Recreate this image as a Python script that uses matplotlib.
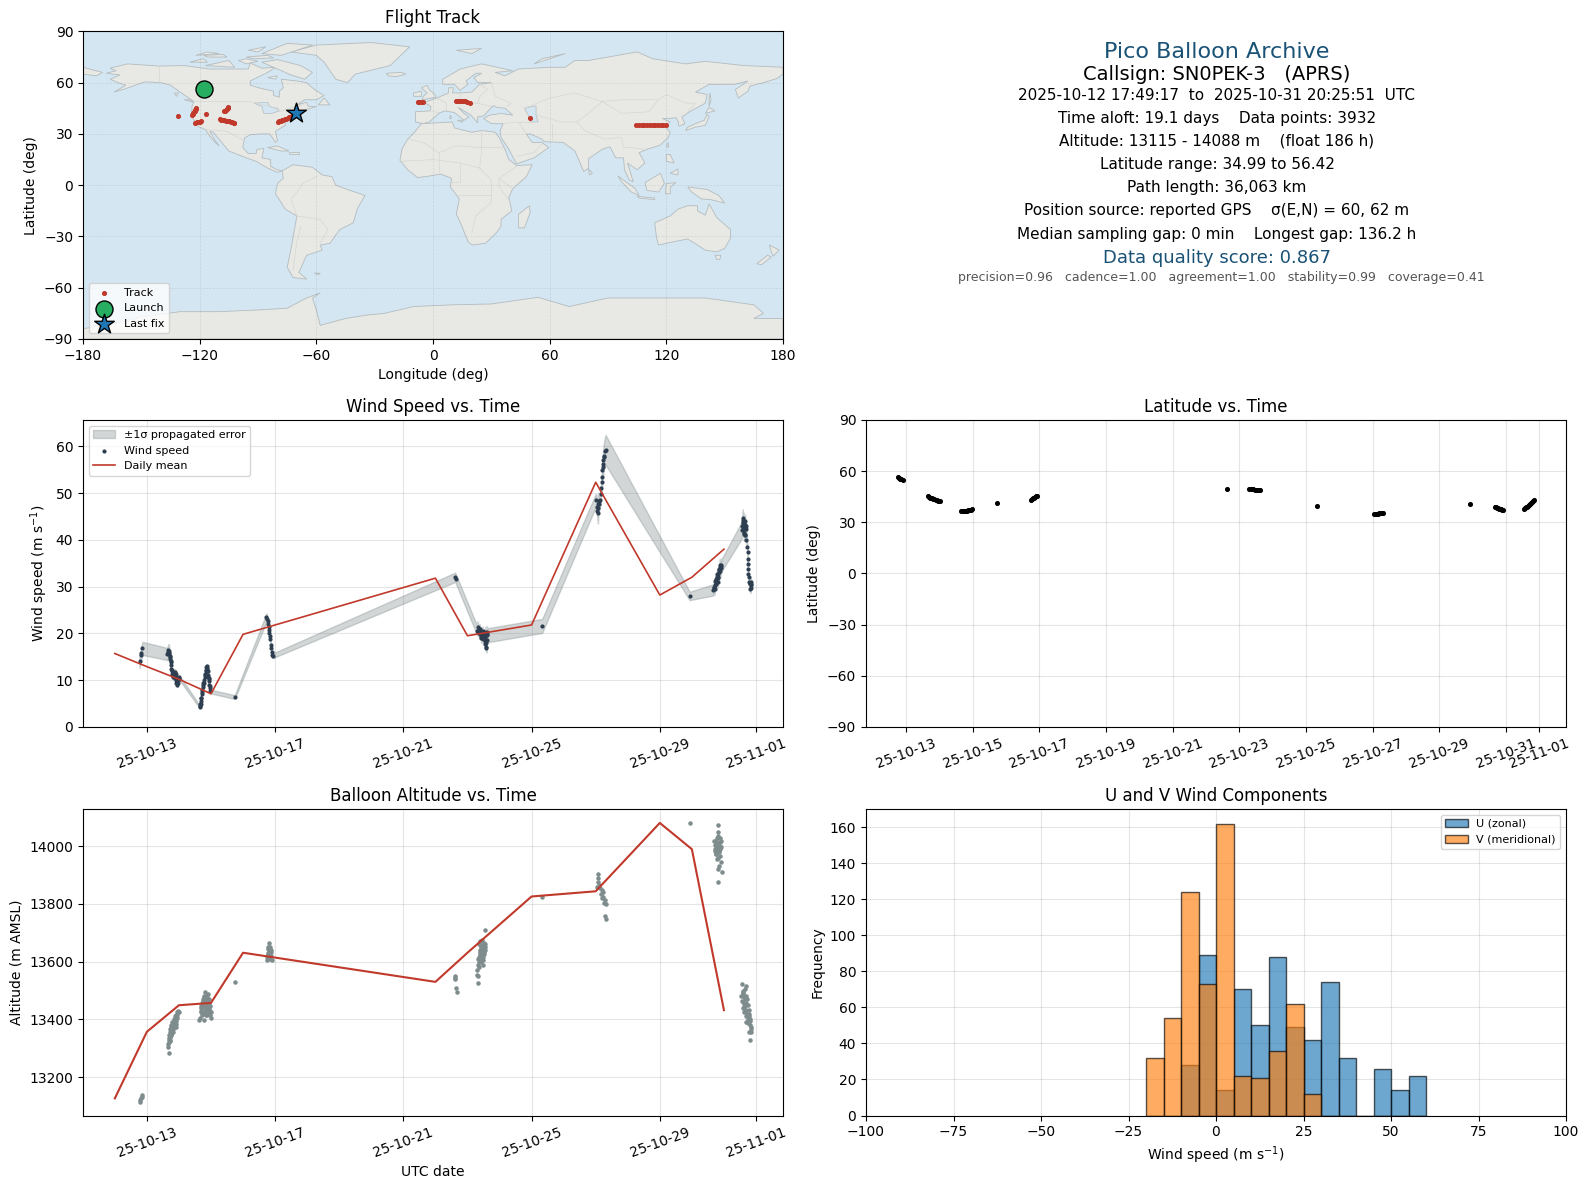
import numpy as np
import pandas as pd
import matplotlib
matplotlib.use("Agg")
import matplotlib.pyplot as plt
import matplotlib.dates as mdates
from matplotlib.patches import Polygon

W, H = 1589, 1189

# ---- data ----
mean_days = [12, 13, 14, 15, 16, 22, 23, 25, 27, 29, 30, 31]
mean_wind = [15.7, 12.9, 10.2, 7.1, 19.8, 31.8, 19.5, 21.8, 52.3, 28.2, 32.0, 38.0]
mean_alt = [13126, 13357, 13449, 13457, 13631, 13530, 13631, 13826, 13844, 14081, 13990, 13432]

wind_days = [12.77, 12.82, 12.83, 12.86,
             13.64, 13.65, 13.67, 13.69, 13.70, 13.72, 13.73, 13.74, 13.75, 13.76, 13.77, 13.78, 13.80, 13.82,
             13.85, 13.88, 13.90, 13.90, 13.92, 13.94, 13.95, 13.97, 13.99, 14.01,
             14.65, 14.67, 14.68, 14.69, 14.70, 14.72, 14.73, 14.75, 14.76, 14.78, 14.80, 14.82, 14.83, 14.85,
             14.87, 14.89, 14.90, 14.91, 14.93, 14.94, 14.95, 14.96, 14.98,
             15.74,
             16.73, 16.75, 16.77, 16.79, 16.80, 16.81, 16.82, 16.83, 16.85, 16.87, 16.87, 16.89, 16.90, 16.92,
             22.62, 22.64,
             23.32, 23.34, 23.36, 23.38, 23.40, 23.42, 23.44, 23.46, 23.48, 23.50, 23.52, 23.54, 23.56, 23.57,
             23.58, 23.58, 23.59, 23.60, 23.62,
             25.33,
             27.00, 27.04, 27.05, 27.07, 27.08, 27.10, 27.14, 27.16, 27.17, 27.19, 27.20, 27.21, 27.23, 27.24,
             27.26, 27.29, 27.31,
             29.93,
             30.67, 30.69, 30.72, 30.74, 30.76, 30.78, 30.80, 30.82, 30.84, 30.86, 30.88, 30.90, 30.92,
             31.55, 31.57, 31.59, 31.60, 31.61, 31.63, 31.65, 31.67, 31.67, 31.69, 31.73, 31.74, 31.74, 31.74,
             31.75, 31.76, 31.77, 31.78, 31.80, 31.82, 31.83, 31.84]
wind_speed = [14.0, 15.3, 15.9, 16.8,
              15.6, 16.0, 16.4, 16.3, 15.8, 15.2, 14.6, 13.9, 13.2, 12.5, 11.9, 11.4, 10.9, 10.6,
              11.2, 11.8, 11.3, 10.6, 10.0, 9.5, 9.0, 9.4, 10.2, 10.6,
              4.3, 4.4, 5.0, 5.6, 6.3, 7.0, 7.8, 8.5, 9.3, 10.0, 10.6, 11.4, 12.2, 12.8,
              13.0, 12.6, 11.9, 11.2, 10.5, 9.8, 9.0, 8.3, 7.6,
              6.4,
              23.4, 23.0, 22.6, 22.0, 21.4, 20.8, 20.0, 19.4, 18.7, 17.5, 16.9, 16.0, 15.4, 15.2,
              32.0, 31.6,
              21.4, 20.6, 20.0, 21.0, 20.2, 19.5, 20.4, 19.6, 18.9, 19.9, 19.2, 18.4, 17.8, 18.6,
              17.2, 20.0, 16.9, 19.8, 19.6,
              21.6,
              48.4, 47.0, 46.2, 45.7, 46.8, 47.6, 48.5, 49.8, 51.0, 52.3, 53.5, 55.0, 56.2, 57.0,
              58.0, 58.9, 59.2,
              28.0,
              29.3, 30.0, 30.3, 31.0, 31.6, 32.0, 31.8, 32.6, 33.2, 33.5, 34.1, 34.7, 34.5,
              42.0, 43.0, 44.6, 43.5, 42.0, 41.5, 43.2, 42.3, 41.0, 39.9, 38.4, 37.3, 36.0,
              34.9, 33.8, 32.8, 32.0, 31.0, 30.5, 29.5, 30.9, 30.3]
wind_sigma = [1.4, 1.4, 1.4, 1.4,
              1.3, 1.3, 1.3, 1.3, 1.2, 1.1, 1.0, 0.9, 0.8, 0.7, 0.7, 0.6, 0.6, 0.6,
              0.6, 0.6, 0.6, 0.5, 0.5, 0.5, 0.5, 0.5, 0.5, 0.5,
              0.3, 0.3, 0.3, 0.3, 0.3, 0.4, 0.4, 0.4, 0.4, 0.5, 0.5, 0.5, 0.5, 0.5,
              0.5, 0.5, 0.5, 0.5, 0.5, 0.5, 0.4, 0.4, 0.4,
              0.4,
              0.9, 0.9, 0.8, 0.8, 0.8, 0.7, 0.7, 0.7, 0.7, 0.6, 0.6, 0.6, 0.6, 0.5,
              1.0, 1.0,
              1.2, 1.0, 1.0, 1.0, 1.0, 1.0, 1.0, 1.0, 1.0, 1.0, 1.0, 1.0, 1.0, 1.0,
              1.0, 1.5, 1.0, 1.5, 1.5,
              1.5,
              1.4, 1.5, 2.0, 2.2, 1.8, 1.6, 1.5, 1.6, 1.7, 2.0, 2.2, 2.4, 2.6, 2.8,
              2.9, 3.1, 3.2,
              0.9,
              1.2, 1.2, 1.2, 1.2, 1.2, 1.2, 1.2, 1.2, 1.2, 1.3, 1.3, 1.3, 1.3,
              1.8, 1.8, 1.9, 1.6, 1.4, 1.4, 1.4, 1.4, 1.2, 1.0, 1.0, 0.8, 0.8,
              0.8, 0.8, 0.8, 0.8, 0.8, 0.9, 0.9, 0.9, 0.9]
# extra fixes that fill out the densest clusters
dense_wind_days = [13.66, 13.68, 13.71, 13.75, 13.78, 13.80, 13.83, 13.87, 13.92, 13.96, 14.00,
                   14.66, 14.69, 14.72, 14.75, 14.78, 14.81, 14.84, 14.86, 14.88, 14.92, 14.95, 14.97,
                   23.31, 23.35, 23.39, 23.43, 23.47, 23.51, 23.55, 23.60, 23.61, 23.58, 23.56, 23.53,
                   27.06, 27.09, 27.22, 27.25,
                   30.68, 30.71, 30.73, 30.75, 30.77, 30.79, 30.81, 30.83, 30.85, 30.87, 30.89, 30.91,
                   31.58, 31.60, 31.62, 31.64, 31.66, 31.68, 31.70, 31.61, 31.66, 31.82, 31.84, 31.85]
dense_wind_speed = [15.9, 15.5, 15.0, 14.0, 12.2, 11.8, 11.4, 10.5, 9.4, 10.0, 10.2,
                    4.9, 6.1, 7.5, 9.0, 9.5, 11.2, 11.9, 12.5, 12.0, 10.6, 10.2, 8.8,
                    20.5, 21.0, 19.8, 19.0, 20.5, 19.0, 19.3, 18.5, 20.3, 18.0, 20.2, 20.0,
                    47.6, 48.3, 55.6, 57.6,
                    29.8, 29.5, 31.2, 30.6, 31.0, 32.6, 31.0, 32.0, 33.8, 34.6, 33.3, 34.0,
                    43.9, 42.8, 41.3, 43.5, 44.0, 43.0, 42.3, 44.2, 41.0, 30.7, 29.8, 30.6]
dense_wind_sigma = [1.3, 1.3, 1.2, 0.9, 0.7, 0.6, 0.6, 0.6, 0.5, 0.5, 0.5,
                    0.3, 0.3, 0.4, 0.4, 0.5, 0.5, 0.5, 0.5, 0.5, 0.5, 0.5, 0.4,
                    1.0, 1.0, 1.0, 1.0, 1.0, 1.0, 1.0, 1.0, 1.2, 1.0, 1.2, 1.0,
                    2.0, 1.8, 2.4, 2.8,
                    1.2, 1.2, 1.2, 1.2, 1.2, 1.2, 1.2, 1.2, 1.2, 1.3, 1.3, 1.3,
                    1.8, 1.6, 1.4, 1.4, 1.4, 1.4, 1.2, 1.6, 1.2, 0.9, 0.9, 0.9]

alt_days = [12.77, 12.79, 12.82, 12.84, 12.86,
            13.68, 13.67, 13.66, 13.69, 13.68, 13.71, 13.70, 13.72, 13.73, 13.74, 13.72, 13.76, 13.74, 13.78, 13.76,
            13.80, 13.78, 13.83, 13.81, 13.85, 13.83, 13.88, 13.86, 13.90, 13.88, 13.92, 13.90, 13.95, 13.93, 13.97,
            13.99,
            14.64, 14.66, 14.77, 14.68, 14.70, 14.72, 14.74, 14.76, 14.78, 14.80, 14.82, 14.84, 14.86, 14.88, 14.90,
            14.92, 14.94, 14.96, 14.98, 15.00, 14.69, 14.75, 14.81, 14.87, 14.93, 14.99, 14.72, 14.84, 14.90, 14.80,
            15.74,
            16.74, 16.78, 16.82, 16.84, 16.80, 16.76, 16.86, 16.90, 16.88, 16.83, 16.79,
            22.60, 22.62, 22.60, 22.63, 22.66,
            23.33, 23.30, 23.31, 23.32, 23.34, 23.36, 23.38, 23.40, 23.42, 23.44, 23.46, 23.48, 23.50, 23.52, 23.54,
            23.56, 23.33, 23.37, 23.41, 23.45, 23.49, 23.53, 23.35, 23.39, 23.43, 23.47, 23.51, 23.56,
            25.33,
            27.08, 27.06, 27.07, 27.05, 27.09, 27.12, 27.15, 27.19, 27.21, 27.22, 27.24, 27.27, 27.30, 27.31, 27.29, 27.31,
            29.93,
            30.80, 30.80, 30.80, 30.70, 30.72, 30.75, 30.78, 30.82, 30.85, 30.88, 30.90, 30.72, 30.76, 30.80, 30.84, 30.88,
            30.74, 30.79, 30.83, 30.87, 30.91, 30.84, 30.80, 30.90, 30.94, 30.83,
            31.55, 31.69, 31.54, 31.58, 31.62, 31.66, 31.56, 31.60, 31.64, 31.68, 31.72, 31.60, 31.65, 31.70, 31.75, 31.79,
            31.63, 31.68, 31.73, 31.78, 31.70, 31.75, 31.80, 31.83, 31.85, 31.78, 31.82, 31.84, 31.81,
            13.69, 13.71, 13.73, 13.75, 13.77, 13.79, 13.82, 13.84, 13.87, 13.89, 13.91, 13.94,
            14.70, 14.73, 14.76, 14.79, 14.82, 14.85, 14.88, 14.91, 14.94, 14.97, 14.74, 14.78, 14.83, 14.89, 14.95,
            16.77, 16.81, 16.85, 16.79, 16.83, 16.87,
            23.37, 23.41, 23.45, 23.49, 23.53, 23.39, 23.43, 23.47, 23.51, 23.55, 23.42, 23.46, 23.50,
            30.71, 30.74, 30.77, 30.81, 30.85, 30.89, 30.73, 30.78, 30.83, 30.87,
            31.59, 31.63, 31.67, 31.71, 31.61, 31.65, 31.69, 31.74, 31.77, 31.81]
alt_values = [13115, 13120, 13126, 13132, 13138,
              13285, 13305, 13315, 13320, 13335, 13325, 13345, 13340, 13355, 13372, 13365, 13350, 13380, 13360, 13345,
              13375, 13390, 13380, 13365, 13395, 13370, 13385, 13400, 13374, 13410, 13395, 13415, 13405, 13425, 13430,
              13426,
              13397, 13405, 13397, 13425, 13440, 13455, 13470, 13445, 13480, 13495, 13470, 13450, 13485, 13465, 13487,
              13445, 13470, 13430, 13415, 13406, 13445, 13420, 13430, 13440, 13425, 13425, 13415, 13415, 13450, 13460,
              13531,
              13605, 13630, 13665, 13650, 13635, 13615, 13620, 13605, 13635, 13610, 13645,
              13552, 13545, 13540, 13507, 13495,
              13527, 13570, 13555, 13590, 13610, 13600, 13625, 13640, 13655, 13630, 13674, 13650, 13615, 13640, 13660,
              13711, 13550, 13580, 13600, 13620, 13640, 13665, 13660, 13670, 13610, 13590, 13625, 13650,
              13824,
              13904, 13890, 13875, 13858, 13865, 13855, 13835, 13847, 13820, 13840, 13825, 13805, 13815, 13800, 13757, 13749,
              14081,
              14074, 14048, 14035, 14020, 13990, 14005, 14030, 14010, 13985, 13965, 14020, 14005, 13975, 13960, 13980, 14015,
              13995, 13955, 14000, 13990, 13996, 13930, 13921, 13945, 13910, 13875,
              13522, 13515, 13480, 13500, 13478, 13505, 13465, 13490, 13455, 13480, 13470, 13440, 13445, 13432, 13450, 13432,
              13425, 13410, 13420, 13410, 13390, 13386, 13400, 13375, 13365, 13355, 13380, 13357, 13330,
              13330, 13340, 13330, 13345, 13355, 13370, 13355, 13385, 13375, 13395, 13385, 13415,
              13430, 13440, 13460, 13455, 13445, 13435, 13475, 13425, 13455, 13445, 13465, 13475, 13460, 13415, 13440,
              13650, 13620, 13625, 13625, 13620, 13640,
              13615, 13625, 13640, 13605, 13635, 13635, 13650, 13630, 13655, 13640, 13605, 13620, 13660,
              13985, 13975, 13995, 13985, 14000, 14000, 14020, 14015, 14005, 14030,
              13460, 13445, 13430, 13415, 13490, 13470, 13455, 13400, 13420, 13395]

lat_days = [12.75, 12.78, 12.81, 12.85, 12.90,
            13.65, 13.69, 13.73, 13.77, 13.81, 13.85, 13.89, 13.93, 13.97, 14.01,
            14.66, 14.70, 14.74, 14.78, 14.82, 14.86, 14.90, 14.94, 14.98,
            15.74,
            16.74, 16.77, 16.80, 16.83, 16.86, 16.89, 16.92,
            22.63,
            23.30, 23.34, 23.38, 23.42, 23.46, 23.50, 23.54, 23.58, 23.62,
            25.33,
            27.04, 27.08, 27.12, 27.16, 27.20, 27.24, 27.28, 27.32,
            29.93,
            30.67, 30.70, 30.73, 30.76, 30.79, 30.82, 30.85, 30.88, 30.92,
            31.55, 31.58, 31.61, 31.64, 31.67, 31.70, 31.73, 31.76, 31.79, 31.82, 31.85]
lat_values = [56.4, 56.0, 55.6, 55.2, 54.9,
              45.3, 44.9, 44.5, 44.1, 43.8, 43.5, 43.2, 42.9, 42.6, 42.4,
              36.5, 36.6, 36.7, 36.8, 36.9, 37.0, 37.2, 37.4, 37.7,
              41.6,
              43.3, 43.7, 44.1, 44.5, 44.9, 45.2, 45.5,
              49.5,
              49.6, 49.5, 49.4, 49.3, 49.2, 49.1, 49.0, 48.9, 48.8,
              39.4,
              35.0, 35.0, 35.0, 35.1, 35.2, 35.3, 35.4, 35.6,
              41.0,
              39.0, 38.7, 38.5, 38.3, 38.1, 37.9, 37.7, 37.5, 37.3,
              37.6, 38.2, 38.7, 39.2, 39.8, 40.3, 40.8, 41.3, 41.8, 42.3, 43.0]

track_lon = [-131.4,
             -123.8, -123.5, -123.2, -122.9, -122.6, -122.3, -122.0, -121.7,
             -122.4, -121.6, -120.8, -120.0, -119.2,
             -116.5,
             -107.5, -107.0, -106.5, -106.0, -105.5, -105.2,
             -109.7, -108.9, -108.1, -107.3, -106.5, -105.7, -104.9, -104.1, -103.3, -102.5, -102.1,
             -79.7, -79.0, -78.3, -77.6, -76.9, -76.2, -75.5, -74.8, -74.1, -73.4, -72.6, -71.8, -71.0,
             -7.9, -7.0, -6.1, -5.3,
             11.7, 12.7, 13.7, 14.7, 15.7, 16.7, 17.7, 18.8,
             49.9,
             104.5, 105.9, 107.3, 108.7, 110.1, 111.5, 112.9, 114.3, 115.7, 117.1, 118.5, 119.8]
track_lat = [40.6,
             40.8, 41.4, 42.0, 42.6, 43.2, 43.8, 44.5, 45.3,
             36.5, 36.7, 36.9, 37.1, 37.3,
             41.6,
             43.3, 43.7, 44.2, 44.7, 45.2, 45.5,
             38.5, 38.3, 38.1, 37.9, 37.7, 37.5, 37.3, 37.1, 36.8, 36.5, 36.3,
             36.9, 37.3, 37.7, 38.0, 38.3, 38.7, 39.0, 39.4, 39.8, 40.1, 40.5, 41.0, 41.6,
             48.8, 48.8, 48.8, 48.8,
             49.1, 49.2, 49.2, 49.2, 49.1, 49.0, 48.8, 48.2,
             39.4,
             35.0, 35.0, 35.0, 35.0, 35.1, 35.1, 35.2, 35.2, 35.3, 35.3, 35.3, 35.3]
launch_pos = (-118.0, 56.4)
last_fix_pos = (-70.6, 42.4)

hist_edges = [-20, -15, -10, -5, 0, 5, 10, 15, 20, 25, 30, 35, 40, 45, 50, 55]
hist_u = [0, 0, 28, 89, 14, 70, 50, 88, 49, 42, 74, 32, 0, 26, 14, 22]
hist_v = [32, 54, 124, 73, 162, 22, 21, 36, 62, 12, 0, 0, 0, 0, 0, 0]

date_ticks_wide = ["2025-10-13", "2025-10-17", "2025-10-21", "2025-10-25", "2025-10-29", "2025-11-01"]
date_ticks_lat = ["2025-10-13", "2025-10-15", "2025-10-17", "2025-10-19", "2025-10-21", "2025-10-23",
                  "2025-10-25", "2025-10-27", "2025-10-29", "2025-10-31", "2025-11-01"]

land_polys = [
    # North America
    [(-168,65.5),(-163,67),(-166,68.5),(-157,71),(-141,69.7),(-128,70),(-115,68),(-108,68),(-95,68),(-94,71.5),(-88,68.5),(-81,69),
     (-85,66),(-94,61),(-94,58.5),(-88,56.5),(-82,55),(-82,52.5),(-79,51.5),(-79,55),(-77,57),(-78,62),(-70,61),(-65,60),
     (-61,56),(-56,52.5),(-60,50),(-66,50),(-70,47),(-65,48.5),(-64,46),(-60,46),(-66,44),(-70,43.5),(-71,41.5),(-74,40.5),
     (-76,37),(-76,35),(-81,31.5),(-80,26),(-81,25),(-82.7,28),(-84,30),(-89,30),(-94,29.5),(-97,27.5),(-97.8,22),(-95,18.5),
     (-91,18.5),(-90.5,21),(-87,21.5),(-88,16),(-83.5,15),(-83.5,11),(-80,9),(-77.5,8.5),(-80,7.5),(-85,10),(-91,14),(-96,16),
     (-105,20),(-109,25.5),(-113,31),(-114.8,31.5),(-112,26),(-110,23),(-112,25),(-115,29),(-117,32.5),(-121,34.5),(-124,40),
     (-124,46),(-123,49),(-130,54.5),(-135,58.5),(-140,60),(-148,60.5),(-152,59),(-158,56.5),(-164,54.5),(-158,58.5),(-162,60),
     (-166,62),(-161,64.5)],
    # South America
    [(-77.5,8.5),(-72,12),(-62,10.5),(-57,6),(-52,5),(-50,0),(-44,-2.5),(-35,-6),(-39,-14),(-41,-22),(-48,-26),(-53,-34),(-58,-35),
     (-57,-38),(-65,-41),(-67,-46),(-69,-51),(-65,-55),(-72,-54),(-75,-48),(-73,-37),(-70,-18),(-76,-14),(-81,-5),(-80,1),(-77,4)],
    # Africa
    [(-6,36),(10,37),(11,33.5),(20,31),(25,32),(32,31),(34,28),(37,21),(39,15),(43,11.5),(51,12),(48,5),(41,-2),(39,-7),
     (40.5,-15),(35,-20),(35,-24),(32.5,-28),(27,-34),(20,-35),(18,-33),(14.5,-23),(12,-17),(13.5,-8),(9,-1),(9.5,4),(4,6.5),
     (-4,5),(-8,4.5),(-13,9),(-17,14.5),(-16,21),(-13,27),(-9.5,31)],
    # Eurasia
    [(-9,37),(-9,43),(-1.5,43.5),(-1,46),(-4.5,48.5),(2,51),(8,54),(8,57),(10.5,57),(10,54),(14,54),(20,54.5),(24,59),(30,60),
     (23,60),(21,63),(25,65.5),(22,65.5),(17,61),(18,59),(14,55.5),(11,59),(5,59),(5,62),(14,68),(25,71),(41,67),(32,66),(37,64),
     (44,68),(60,69),(68,69),(73,73),(80,73),(100,77),(105,78),(113,74),(130,71),(140,72.5),(160,70),(180,69),(180,65),(177,62.5),(170,60),
     (163,58),(162,55),(157,51),(155.5,56),(162,61),(155,59),(142,59),(135,54.5),(141,53),(140,48),(132,43),(128,40),(129.5,36),
     (126.5,34.5),(126,37.5),(125,39.5),(121,39),(118,39),(122,37),(119,35),(122,31),(121,28),(117,23.5),(110,21),(106,19),(109,13),
     (105,9),(100,13),(103,2),(101,3),(98.5,9),(98,16),(94,16),(91,22.5),(87,21),(80,15.5),(80,10),(77.5,8),(73,20),(67,25),(57,25.5),
     (56,27),(50,30),(48,30),(51,25),(56,25),(59.5,22),(52,16),(43,12.5),(39,21),(35,28),(34.5,31.5),(36,36),(30,36),(26,39),(29,41),
     (35,42),(41,41),(37,45),(33,45.5),(31,46.5),(28,43),(26,40.5),(23,40),(23,36.5),(19.5,41),(13,45.5),(16,42),(18.5,40),(16,38),
     (11,42.5),(6,43.5),(3,42),(0,39),(-2,37),(-5,36)],
    # Chukotka tip west of the date line
    [(-180,69),(-170,66),(-173,64),(-180,65)],
    # Greenland
    [(-73,78),(-60,82),(-32,83.5),(-12,81),(-22,70),(-40,65),(-44,60),(-50,62),(-56,72),(-60,76)],
    # Arctic Canada
    [(-62,66),(-68,70),(-80,73.5),(-88,72),(-80,68),(-73,64.5),(-66,62)],
    [(-117,70),(-105,73),(-102,69)],
    [(-88,77),(-75,83),(-62,82),(-78,76)],
    [(-125,72),(-118,74),(-116,72)],
    [(-96,75),(-85,76),(-82,74.5),(-92,74)],
    [(-118,76),(-108,76.5),(-106,75),(-116,75)],
    [(-100,73),(-96,74),(-90,72.5),(-96,71)],
    [(-122,76),(-116,78),(-110,77)],
    [(-95,79),(-86,81),(-90,78)],
    [(-85,63),(-80,64),(-81,62)],
    [(-59,47),(-53,47),(-56,51)],
    [(-133,54),(-131,54),(-132,52)],
    [(-128,50),(-123,48.5),(-125,50)],
    # Islands
    [(-24,65.5),(-16,66),(-14,65),(-19,63.5),(-23,64)],
    [(-5.5,50),(1.5,51.5),(1,53),(-2,56),(-3,58.5),(-6,57),(-3,54),(-5,52)],
    [(-10,52),(-6,52),(-6,55),(-10,54)],
    [(49.5,-12),(50,-16),(47,-25),(44,-25),(44,-17)],
    [(130,32),(135,34),(140,35),(142,40),(141,41.5),(139.5,38),(136,36.5),(131,34)],
    [(140,42),(145,43.5),(142,45.5)],
    [(142,46),(143,50),(142.5,54),(142,50)],
    [(95,5.5),(104,-2),(106,-6),(102,-4),(97,2)],
    [(105,-6.5),(114,-7.5),(114,-8.5),(106,-7.5)],
    [(109,1.5),(117,7),(119,1),(116,-4),(110,-3)],
    [(120,1),(125,1.5),(122,-1),(122,-5),(119.5,-5)],
    [(131,-1),(141,-2.5),(147,-6),(150,-10.5),(143,-8.5),(138,-8),(133,-4)],
    [(120,18),(122,18),(124,13),(120,14)],
    [(122,7),(126,9.5),(126,6)],
    [(80,9.5),(82,7),(80.5,6)],
    [(121,25),(121,22),(120,23)],
    [(-85,22),(-80,23),(-74,20),(-78,20)],
    [(-74,19.5),(-69,19.5),(-69,18),(-74,18)],
    [(114,-22),(122,-18),(126,-14),(131,-12),(136,-12),(136,-15),(140,-17.5),(142,-11),(146,-19),(153,-26),(153,-31),(150,-37),
     (146,-39),(140,-38),(136,-35),(131,-31.5),(124,-33),(116,-35),(115,-31)],
    [(145,-41),(148,-41),(147.5,-43.5),(146,-43.5)],
    [(173,-35),(178,-38),(175,-41.5),(174,-39)],
    [(172,-41),(174,-42),(169,-46.5),(166.5,-46)],
    [(52,71),(68,77),(56,74)],
    [(12,79),(25,80),(20,77)],
    [(-61,-51.5),(-58,-51.5),(-59,-52.3)],
    [(9,41),(9.5,39),(8.5,39)],
    [(12.5,38),(15.5,38),(15,36.8)],
    # Antarctica
    [(-180,-84),(-160,-80),(-150,-77),(-130,-74),(-110,-74),(-90,-73),(-75,-72),(-65,-66),(-58,-63),(-62,-66),(-60,-73),(-58,-82),
     (-45,-78),(-34,-76),(-25,-75),(-10,-71),(10,-70),(30,-69.5),(54,-65.6),(70,-71),(90,-66),(120,-66),(140,-66),(165,-70),(170,-75),
     (165,-78),(180,-78),(180,-90),(-180,-90)],
]
water_polys = [
    [(47,45),(53,46.5),(53,41),(54,37),(50,37),(49,41)],
    [(-92,48),(-85,48.5),(-84,46),(-80,45),(-79,43.5),(-83,42),(-87,42),(-88,46)],
]
border_lines = [
    [(-123,49),(-95,49),(-83,46),(-79,43),(-74,45),(-67,47)],
    [(-141,69.7),(-141,60)],
    [(-117,32.5),(-106,31.5),(-97,26)],
    [(-70,-18),(-58,-20),(-54,-26),(-58,-34)],
    [(-70,-18),(-73,-8),(-70,-4),(-67,1),(-60,5)],
    [(-72,-50),(-70,-33),(-68,-24)],
    [(-13,27),(-5,25),(3,19),(12,23),(25,22),(37,22)],
    [(25,32),(25,20),(24,10),(30,3),(30,-10),(22,-18),(20,-28)],
    [(3,6),(3,19)],
    [(-16,14),(0,15),(14,13),(24,10)],
    [(14,13),(14,2),(9,2)],
    [(13,-6),(30,-6)],
    [(41,-2),(34,4),(34,-1),(40,-10)],
    [(34,4),(43,11)],
    [(2,51),(7,48),(7,44)],
    [(-1.5,43.5),(3,42.5)],
    [(14,54),(14,48),(23,48),(30,46)],
    [(24,59),(28,56),(24,52),(23,48)],
    [(30,60),(32,52),(40,48),(38,46)],
    [(47,45),(60,51),(73,54),(87,49),(97,50),(116,50),(120,53),(130,48),(135,48),(131,43)],
    [(53,41),(66,37),(74,37),(80,42),(87,49)],
    [(87,49),(97,42),(111,43),(116,50)],
    [(61,36),(61,25)],
    [(74,37),(78,32),(88,27),(97,28),(98,22),(102,22),(108,21)],
    [(36,36),(44,37),(48,30)],
    [(44,37),(50,37)],
    [(43,17),(52,19),(56,24)],
]

WCOL = "#2c3e50"
ACOL = "#7f8c8d"
RED = "#c0392b"
TITLE_BLUE = "#1a5276"


def to_dates(days):
    return pd.Timestamp("2025-10-01") + pd.to_timedelta(np.asarray(days, float) - 1.0, unit="D")


fig = plt.figure(figsize=(W / 100, H / 100), dpi=100)


def ax_px(l, t, r, b):
    return fig.add_axes([l / W, 1 - b / H, (r - l) / W, (b - t) / H])


def grid(ax):
    ax.grid(True, color="gray", alpha=0.2, lw=0.8)
    ax.set_axisbelow(True)


def date_axis(ax, ticks):
    ax.set_xticks(pd.to_datetime(ticks))
    ax.xaxis.set_major_formatter(mdates.DateFormatter("%y-%m-%d"))
    ax.tick_params(axis="x", labelrotation=20)


LEFT = (83, 783)
RIGHT = (866, 1566)
ROW1 = (31.4, 339)
ROW2 = (420, 727)
ROW3 = (809, 1115.5)

# ---- map ----
ax = ax_px(LEFT[0], ROW1[0], LEFT[1], ROW1[1])
ax.set_facecolor("#d4e6f1")
for poly in land_polys:
    ax.add_patch(Polygon(poly, closed=True, fc="#e8e8e4", ec="#b4bcbf", lw=0.6, zorder=1))
for poly in water_polys:
    ax.add_patch(Polygon(poly, closed=True, fc="#d4e6f1", ec="#b4bcbf", lw=0.5, zorder=1.1))
for line in border_lines:
    xy = np.array(line)
    ax.plot(xy[:, 0], xy[:, 1], color="#d6d6d2", lw=0.5, zorder=1.2)
ax.grid(True, color="gray", alpha=0.2, lw=0.5, ls="--", zorder=1.3)
ax.scatter(track_lon, track_lat, s=7, color=RED, zorder=3, label="Track")
ax.scatter(*launch_pos, s=150, color="#27ae60", edgecolor="k", zorder=4, label="Launch")
ax.scatter(*last_fix_pos, s=220, marker="*", color="#1f77b4", edgecolor="k", zorder=4, label="Last fix")
ax.set_xlim(-180, 180)
ax.set_ylim(-90, 90)
ax.set_xticks(np.arange(-180, 181, 60))
ax.set_yticks(np.arange(-90, 91, 30))
ax.set_xlabel("Longitude (deg)")
ax.set_ylabel("Latitude (deg)")
ax.set_title("Flight Track", fontsize=12)
ax.legend(loc="lower left", fontsize=8)

# ---- wind ----
ax = ax_px(LEFT[0], ROW2[0], LEFT[1], ROW2[1])
all_days = np.array(wind_days + dense_wind_days)
all_speed = np.array(wind_speed + dense_wind_speed)
all_sigma = np.array(wind_sigma + dense_wind_sigma)
order = np.argsort(all_days, kind="stable")
wd = to_dates(all_days)[order]
ws = all_speed[order]
sg = all_sigma[order]
ax.fill_between(wd, ws - sg, ws + sg, color=ACOL, alpha=0.35, label="±1σ propagated error")
ax.scatter(wd, ws, s=4, color=WCOL, zorder=3, label="Wind speed")
ax.plot(to_dates(mean_days), mean_wind, color=RED, lw=1.2, zorder=4, label="Daily mean")
date_axis(ax, date_ticks_wide)
ax.set_ylim(0, 65.6)
ax.set_ylabel("Wind speed (m s$^{-1}$)")
ax.set_title("Wind Speed vs. Time", fontsize=12)
grid(ax)
ax.legend(loc="upper left", fontsize=8)

# ---- latitude ----
ax = ax_px(RIGHT[0], ROW2[0], RIGHT[1], ROW2[1])
ax.scatter(to_dates(lat_days), lat_values, s=7, color="k")
date_axis(ax, date_ticks_lat)
ax.set_ylim(-90, 90)
ax.set_yticks(np.arange(-90, 91, 30))
ax.set_ylabel("Latitude (deg)")
ax.set_title("Latitude vs. Time", fontsize=12)
grid(ax)

# ---- altitude ----
ax = ax_px(LEFT[0], ROW3[0], LEFT[1], ROW3[1])
ax.scatter(to_dates(alt_days), alt_values, s=5, color=ACOL, zorder=3)
ax.plot(to_dates(mean_days), mean_alt, color=RED, lw=1.5, zorder=4)
date_axis(ax, date_ticks_wide)
ax.set_ylabel("Altitude (m AMSL)")
ax.set_xlabel("UTC date")
ax.set_title("Balloon Altitude vs. Time", fontsize=12)
grid(ax)

# ---- histogram ----
ax = ax_px(RIGHT[0], ROW3[0], RIGHT[1], ROW3[1])
ax.bar(hist_edges, hist_u, width=5, align="edge", color="#1f77b4", alpha=0.65, edgecolor="k", lw=1, label="U (zonal)")
ax.bar(hist_edges, hist_v, width=5, align="edge", color="#ff7f0e", alpha=0.65, edgecolor="k", lw=1, label="V (meridional)")
ax.set_xlim(-100, 100)
ax.set_xlabel("Wind speed (m s$^{-1}$)")
ax.set_ylabel("Frequency")
ax.set_title("U and V Wind Components", fontsize=12)
grid(ax)
ax.legend(loc="upper right", fontsize=8)

# ---- summary text ----
cx = 1217 / W
summary = [
    (52, "Pico Balloon Archive", 16, TITLE_BLUE, 0),
    (74.5, "Callsign: SN0PEK-3   (APRS)", 14, "k", 0),
    (95, "2025-10-12 17:49:17  to  2025-10-31 20:25:51  UTC", 11, "k", 0),
    (118, "Time aloft: 19.1 days    Data points: 3932", 11, "k", 0),
    (141, "Altitude: 13115 - 14088 m    (float 186 h)", 11, "k", 0),
    (164, "Latitude range: 34.99 to 56.42", 11, "k", 0),
    (187.5, "Path length: 36,063 km", 11, "k", 0),
    (211, "Position source: reported GPS    σ(E,N) = 60, 62 m", 11, "k", 0),
    (234, "Median sampling gap: 0 min    Longest gap: 136.2 h", 11, "k", 0),
    (258, "Data quality score: 0.867", 13, TITLE_BLUE, 0),
    (278, "precision=0.96   cadence=1.00   agreement=1.00   stability=0.99   coverage=0.41", 9, "#555555", 4),
]
for y, s, size, col, dx in summary:
    fig.text(cx + dx / W, 1 - y / H, s, fontsize=size, color=col, ha="center", va="center")

fig.savefig("out.png", dpi=100)
